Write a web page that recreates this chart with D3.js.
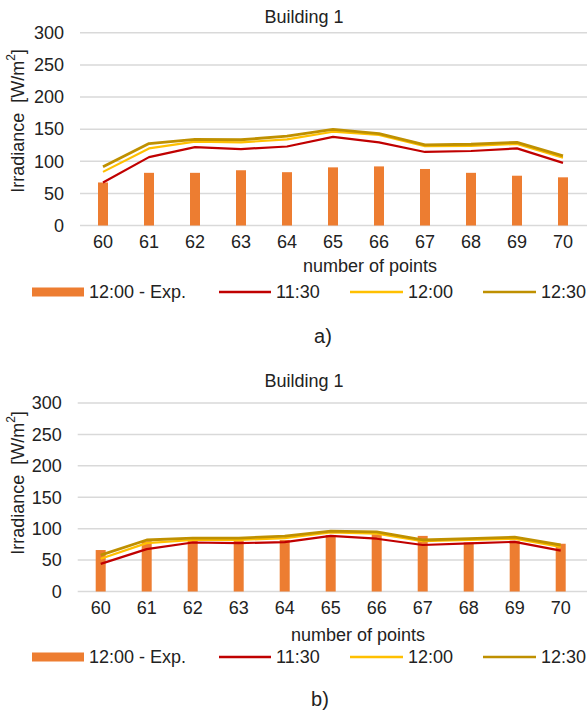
<!DOCTYPE html>
<html>
<head>
<meta charset="utf-8">
<script src="https://cdn.jsdelivr.net/npm/d3@7"></script>
<style>
  html, body { margin: 0; padding: 0; background: #fff; }
  svg { display: block; font-family: "Liberation Sans", Arial, sans-serif; }
</style>
</head>
<body>
<svg id="fig" width="587" height="713"></svg>
<script>
// Categories and axis ticks
const pointLabels = ["60", "61", "62", "63", "64", "65", "66", "67", "68", "69", "70"];
const yTicks = [0, 50, 100, 150, 200, 250, 300];

// Panel a) irradiance [W/m²]
const expA   = [67, 82, 82, 86, 83, 90.5, 92, 88, 82, 77.5, 75];
const s1130A = [67, 106.5, 122, 119, 123, 138, 129.5, 114.5, 116, 120, 97.5];
const s1200A = [83.5, 120, 130.5, 129.5, 134, 146, 141, 123.5, 124, 127, 105.5];
const s1230A = [91.5, 127.5, 134, 133.5, 139, 149.5, 143, 125.5, 126.5, 129.5, 108.5];

// Panel b) irradiance [W/m²]
const expB   = [66, 80, 81, 81, 82, 90, 91, 88.5, 78, 81, 76];
const s1130B = [44, 67.5, 78, 77, 78.5, 88.5, 84, 74, 76.5, 79, 65];
const s1200B = [52, 77, 82, 82, 85, 94, 92, 80, 82, 84, 71];
const s1230B = [58, 82, 85, 85, 88, 96, 95, 82, 84, 86.5, 74];

const seriesNames = ["12:00 - Exp.", "11:30", "12:00", "12:30"];
const colors = { bar: "#ED7D31", s1130: "#C00000", s1200: "#FFC000", s1230: "#BF9000" };
const textColor = "#222";

const svg = d3.select("#fig");

function drawPanel(cfg) {
  const g = svg.append("g");
  const x = d3.scaleBand().domain(pointLabels).range([cfg.left, cfg.right]);
  const y = d3.scaleLinear().domain([0, 300]).range([cfg.bottom, cfg.top]);

  // title
  g.append("text")
    .attr("x", cfg.titleX).attr("y", cfg.titleY)
    .attr("text-anchor", "middle")
    .attr("font-size", 18).attr("fill", textColor)
    .text("Building 1");

  // horizontal gridlines + y axis labels
  const yAxis = d3.axisLeft(y).tickValues(yTicks).tickSize(0).tickPadding(0);
  const ya = g.append("g").attr("transform", `translate(${cfg.left - 16},0)`).call(yAxis);
  ya.select(".domain").remove();
  ya.selectAll("text").attr("font-size", 18).attr("fill", textColor)
    .attr("font-family", "Liberation Sans, Arial, sans-serif");

  g.append("g").selectAll("line").data(yTicks).join("line")
    .attr("x1", cfg.left).attr("x2", cfg.gridRight)
    .attr("y1", d => y(d)).attr("y2", d => y(d))
    .attr("stroke", "#D9D9D9").attr("stroke-width", 1.5);

  // x axis labels
  const xAxis = d3.axisBottom(x).tickSize(0).tickPadding(0);
  const xa = g.append("g").attr("transform", `translate(0,${cfg.bottom + 10})`).call(xAxis);
  xa.select(".domain").remove();
  xa.selectAll("text").attr("font-size", 18).attr("fill", textColor)
    .attr("font-family", "Liberation Sans, Arial, sans-serif");

  // axis titles
  g.append("text")
    .attr("x", cfg.xTitleX).attr("y", cfg.xTitleY)
    .attr("text-anchor", "middle").attr("font-size", 18).attr("fill", textColor)
    .text("number of points");

  const yt = g.append("text")
    .attr("transform", `translate(${cfg.yTitleX},${cfg.yTitleY}) rotate(-90)`)
    .attr("text-anchor", "middle").attr("font-size", 18).attr("fill", textColor)
    .attr("dominant-baseline", "central");
  yt.append("tspan").text("Irradiance\u00a0\u00a0[W/m");
  yt.append("tspan").attr("font-size", 12).attr("baseline-shift", "super").text("2");
  yt.append("tspan").text("]");

  // bars
  const bw = 10;
  g.append("g").selectAll("rect").data(cfg.exp).join("rect")
    .attr("x", (d, i) => x(pointLabels[i]) + x.bandwidth() / 2 - bw / 2)
    .attr("width", bw)
    .attr("y", d => y(d))
    .attr("height", d => y(0) - y(d))
    .attr("fill", colors.bar);

  // lines
  const line = d3.line()
    .x((d, i) => x(pointLabels[i]) + x.bandwidth() / 2)
    .y(d => y(d));
  [[cfg.s1130, colors.s1130, 2.2], [cfg.s1200, colors.s1200, 2.2], [cfg.s1230, colors.s1230, 2.8]]
    .forEach(([vals, c, w]) => {
      g.append("path").datum(vals).attr("d", line)
        .attr("fill", "none").attr("stroke", c).attr("stroke-width", w)
        .attr("stroke-linejoin", "round");
    });

  // legend
  const ly = cfg.legendY;
  const lg = g.append("g");
  lg.append("rect").attr("x", 32).attr("y", ly - 4.5).attr("width", 52).attr("height", 9)
    .attr("fill", colors.bar);
  const legendItems = [
    { name: seriesNames[1], color: colors.s1130, x0: 219, x1: 271 },
    { name: seriesNames[2], color: colors.s1200, x0: 350, x1: 403 },
    { name: seriesNames[3], color: colors.s1230, x0: 483, x1: 536 }
  ];
  lg.append("text").attr("x", 89).attr("y", ly).attr("dominant-baseline", "central")
    .attr("font-size", 18).attr("fill", textColor).text(seriesNames[0]);
  legendItems.forEach(it => {
    lg.append("line").attr("x1", it.x0).attr("x2", it.x1).attr("y1", ly).attr("y2", ly)
      .attr("stroke", it.color).attr("stroke-width", 2.5);
    lg.append("text").attr("x", it.x1 + 5).attr("y", ly).attr("dominant-baseline", "central")
      .attr("font-size", 18).attr("fill", textColor).text(it.name);
  });

  // panel caption
  g.append("text")
    .attr("x", cfg.capX).attr("y", cfg.capY)
    .attr("text-anchor", "middle").attr("font-size", 20).attr("fill", textColor)
    .text(cfg.caption);
}

drawPanel({
  left: 80, right: 586, gridRight: 587, top: 32.8, bottom: 225.5,
  titleX: 304, titleY: 23,
  xTitleX: 370, xTitleY: 272,
  yTitleX: 18, yTitleY: 121,
  legendY: 292,
  capX: 323, capY: 343, caption: "a)",
  exp: expA, s1130: s1130A, s1200: s1200A, s1230: s1230A
});

drawPanel({
  left: 77.7, right: 583.7, gridRight: 587, top: 403, bottom: 591.5,
  titleX: 304, titleY: 387,
  xTitleX: 358, xTitleY: 641,
  yTitleX: 18, yTitleY: 483,
  legendY: 657,
  capX: 320, capY: 706, caption: "b)",
  exp: expB, s1130: s1130B, s1200: s1200B, s1230: s1230B
});
</script>
</body>
</html>
